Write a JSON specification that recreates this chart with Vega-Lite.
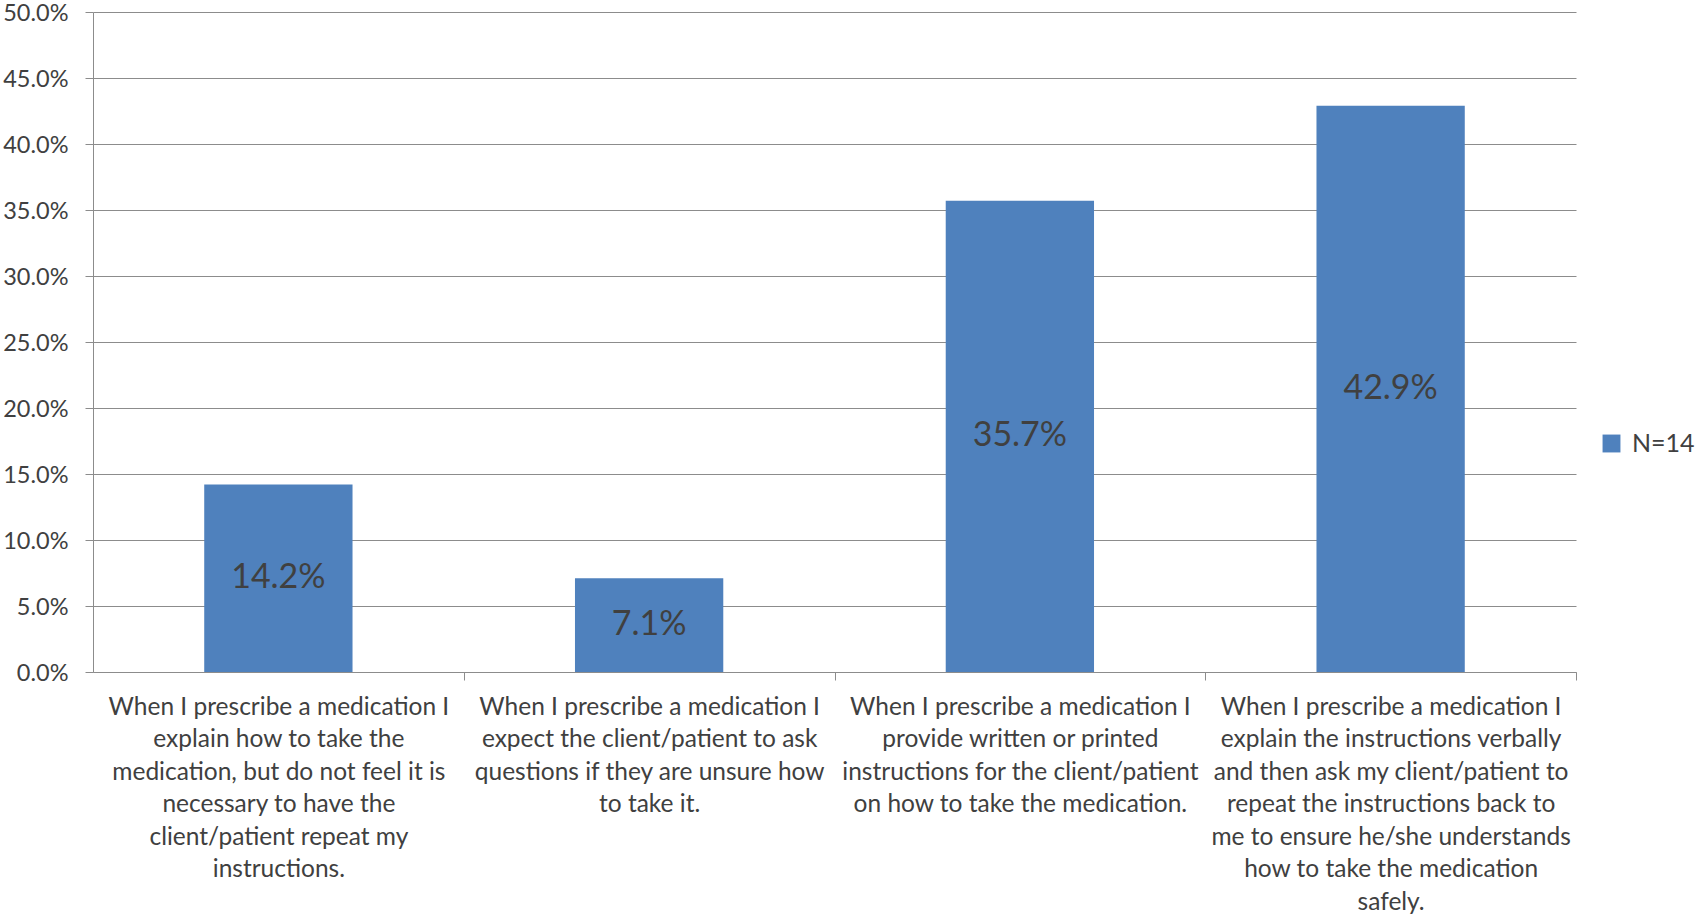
{
  "$schema": "https://vega.github.io/schema/vega-lite/v6.json",
  "width": 1483,
  "height": 660,
  "autosize": "none",
  "padding": {"left": 93, "top": 12, "right": 126, "bottom": 242},
  "background": "white",
  "data": {
    "values": [
      {"category": "When I prescribe a medication I\nexplain how to take the\nmedication, but do not feel it is\nnecessary to have the\nclient/patient repeat my\ninstructions.", "value": 0.142, "label": "14.2%", "series": "N=14"},
      {"category": "When I prescribe a medication I\nexpect the client/patient to ask\nquestions if they are unsure how\nto take it.", "value": 0.071, "label": "7.1%", "series": "N=14"},
      {"category": "When I prescribe a medication I\nprovide written or printed\ninstructions for the client/patient\non how to take the medication.", "value": 0.357, "label": "35.7%", "series": "N=14"},
      {"category": "When I prescribe a medication I\nexplain the instructions verbally\nand then ask my client/patient to\nrepeat the instructions back to\nme to ensure he/she understands\nhow to take the medication\nsafely.", "value": 0.429, "label": "42.9%", "series": "N=14"}
    ]
  },
  "config": {
    "view": {"stroke": null},
    "font": "Lato",
    "axis": {
      "labelFont": "Lato",
      "labelColor": "#404040",
      "domainColor": "#8c8c8c",
      "tickColor": "#8c8c8c",
      "gridColor": "#8c8c8c",
      "domainWidth": 1,
      "tickWidth": 1,
      "gridWidth": 1
    }
  },
  "encoding": {
    "x": {
      "field": "category",
      "type": "nominal",
      "sort": null,
      "scale": {"paddingInner": 0.6, "paddingOuter": 0.3},
      "axis": {
        "title": null,
        "labelAngle": 0,
        "labelFontSize": 24.5,
        "labelLineHeight": 32.5,
        "labelPadding": 15,
        "labelBaseline": "top",
        "tickSize": 8,
        "tickOffset": 185.375,
        "labelOffset": -185.375,
        "labelExpr": "split(datum.label, '\\n')",
        "labelLimit": 0
      }
    },
    "y": {
      "field": "value",
      "type": "quantitative",
      "stack": "zero",
      "scale": {"domain": [0, 0.5]},
      "axis": {
        "title": null,
        "format": ".1%",
        "values": [0, 0.05, 0.1, 0.15, 0.2, 0.25, 0.3, 0.35, 0.4, 0.45, 0.5],
        "labelOverlap": false,
        "labelFontSize": 23.5,
        "labelPadding": 17,
        "labelBound": false,
        "labelBaseline": "alphabetic",
        "labelOffset": 8.5,
        "tickSize": 8,
        "grid": true
      }
    }
  },
  "layer": [
    {
      "mark": {"type": "bar", "color": "#4F81BD"},
      "encoding": {
        "color": {
          "field": "series",
          "type": "nominal",
          "scale": {"range": ["#4F81BD"]},
          "legend": {
            "title": null,
            "orient": "none",
            "legendX": 1506,
            "legendY": 419,
            "symbolType": "square",
            "symbolSize": 320,
            "symbolStrokeWidth": 0,
            "labelFont": "Lato",
            "labelFontSize": 25,
            "labelColor": "#404040",
            "labelOffset": 8
          }
        }
      }
    },
    {
      "mark": {"type": "text", "fontSize": 34, "color": "#404040", "baseline": "middle", "align": "center"},
      "encoding": {
        "y": {"field": "value", "type": "quantitative", "stack": "zero", "bandPosition": 0.5},
        "text": {"field": "label"}
      }
    }
  ]
}
